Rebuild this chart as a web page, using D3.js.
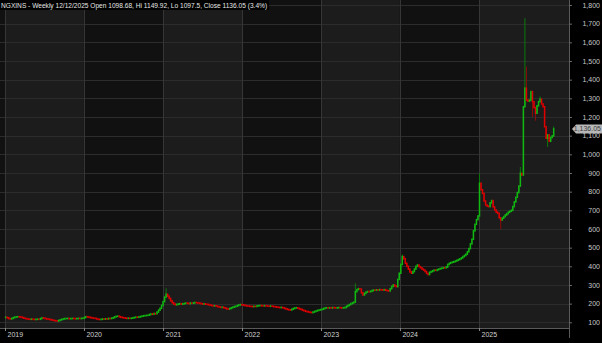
<!DOCTYPE html>
<html>
<head>
<meta charset="utf-8">
<script src="https://cdn.jsdelivr.net/npm/d3@7"></script>
<style>
    html, body { margin: 0; padding: 0; background: #000; }
    svg { display: block; font-family: "Liberation Sans", Arial, sans-serif; }
</style>
</head>
<body>
<svg id="chart" width="602" height="343"></svg>
<script>
const titleText = "NGXINS - Weekly 12/12/2025 Open 1098.68, Hi 1149.92, Lo 1097.5, Close 1136.05 (3.4%)"
const lastPriceLabel = "1,136.05"

// weekly closes, one array per year (first Friday of each year onwards)
const yearStarts = ["2019-01-04", "2020-01-03", "2021-01-01", "2022-01-07", "2023-01-06", "2024-01-05", "2025-01-03"]
const close2019 = [127, 124, 120, 118, 121, 125, 128, 129, 130, 129, 128, 125, 122, 120, 118,
    117, 116, 117, 116, 115, 116, 117, 116, 120, 124, 122, 120, 118, 117,
    115, 113, 111, 109, 108, 107, 110, 113, 116, 118, 120,
    120, 121, 119, 120, 121, 120, 119, 120, 121, 120, 121, 122]
const close2020 = [126, 130, 129, 127, 125, 123, 122, 121, 118, 116, 115,
    116, 118, 117, 119, 118, 121, 120, 122, 125, 129, 132, 133, 130, 127, 125, 124,
    122, 121, 122, 121, 122, 124, 126, 128, 127, 129, 131, 133, 135, 136, 137, 138,
    142, 145, 143, 147, 146, 155, 165, 175, 190]
const close2021 = [211, 235, 250, 240, 228, 215, 205, 198, 194, 196, 198, 200, 197, 199,
    201, 203, 202, 200, 203, 202, 204, 206, 205, 203, 202, 200, 198, 199, 197, 196,
    194, 192, 190, 188, 189, 187, 184, 182, 180, 181, 178, 175, 172, 171,
    174, 178, 181, 184, 186, 190, 193, 195, 194]
const close2022 = [192, 190, 188, 187, 186, 185, 184, 186, 185, 188, 189, 190, 189, 188, 189, 188,
    187, 186, 187, 186, 184, 183, 181, 180, 179, 180, 178, 175, 172, 169, 167, 166,
    170, 174, 177, 178, 175, 172, 169, 165, 162, 159, 157, 155, 153, 152,
    155, 158, 161, 164, 166, 168]
const close2023 = [170, 174, 177, 178, 177, 178, 177, 179, 178, 177, 178, 179, 178, 177, 178, 179,
    185, 190, 195, 200, 204, 208, 264, 275, 280, 278, 258, 246,
    255, 262, 265, 264, 266, 270, 273, 272, 274, 273, 275, 274, 273, 275,
    272, 269, 268, 280, 292, 300, 295, 291, 330, 363]
const close2024 = [410, 452, 440, 416, 400, 385, 370, 363, 372, 385, 400, 407, 398,
    392, 385, 380, 372, 362, 356, 368, 372, 376, 380, 378, 382, 385,
    388, 390, 393, 392, 396, 410, 416, 420, 422, 425, 428, 432, 436, 440, 445, 452,
    458, 465, 478, 495, 520, 545, 590, 625, 650, 670]
const close2025 = [845, 810, 791, 750, 729, 722, 720, 740, 752, 718, 702, 690, 684, 660, 648,
    658, 666, 675, 682, 690, 695, 700, 720, 745, 770, 795, 830, 898, 889,
    1255, 1354, 1291, 1285, 1290, 1336, 1282, 1250, 1220, 1260, 1282, 1295,
    1270, 1255, 1148, 1086, 1104, 1070, 1090, 1098.68, 1136.05]
const firstOpen = 126

// wicks that reach past the body: [year, week of year, value]
const wickHighs = [[2021, 2, 282], [2023, 22, 309], [2024, 1, 464], [2025, 0, 898],
    [2025, 27, 932], [2025, 30, 1729], [2025, 31, 1470], [2025, 40, 1310], [2025, 49, 1149.92]]
const wickLows = [[2025, 14, 600], [2025, 35, 1200], [2025, 37, 1180], [2025, 45, 1040], [2025, 49, 1097.5]]

const yTicks = [100, 200, 300, 400, 500, 600, 700, 800, 900, 1000, 1100, 1200, 1300, 1400, 1500, 1600, 1700, 1800]
const yearLabels = ["2019", "2020", "2021", "2022", "2023", "2024", "2025"]

const svg = d3.select("#chart")
const plotRight = 569
const plotBottom = 328

const parse = d3.timeParse("%Y-%m-%d")
const xScale = d3.scaleTime()
    .domain([new Date(2019, 0, 1), new Date(2026, 0, 1)])
    .range([5, 558])
const yScale = d3.scaleLinear()
    .domain([100, 1800])
    .range([322.3, 5])

// build candles
const yearly = [close2019, close2020, close2021, close2022, close2023, close2024, close2025]
const candles = []
let prevClose = firstOpen
yearly.forEach((closes, yi) => {
    const start = parse(yearStarts[yi])
    const year = +yearLabels[yi]
    closes.forEach((c, wi) => {
        const hiWick = wickHighs.find(w => w[0] === year && w[1] === wi)
        const loWick = wickLows.find(w => w[0] === year && w[1] === wi)
        const open = prevClose
        candles.push({
            date: d3.timeDay.offset(start, wi * 7),
            open: open,
            close: c,
            high: hiWick ? hiWick[2] : Math.max(open, c),
            low: loWick ? loWick[2] : Math.min(open, c)
        })
        prevClose = c
    })
})

svg.append("rect").attr("width", 602).attr("height", 343).attr("fill", "#000")
svg.append("rect").attr("width", plotRight).attr("height", plotBottom).attr("fill", "#111111")

// alternating year bands
yearLabels.forEach((yr, i) => {
    const x0 = xScale(new Date(+yr, 0, 1))
    const x1 = i === yearLabels.length - 1 ? plotRight : xScale(new Date(+yr + 1, 0, 1))
    svg.append("rect")
        .attr("x", x0)
        .attr("y", 0)
        .attr("width", x1 - x0)
        .attr("height", plotBottom)
        .attr("fill", i % 2 === 0 ? "#1c1c1c" : "#111111")
})

svg.append("g")
    .selectAll("line")
    .data(yTicks)
    .enter()
    .append("line")
    .attr("x1", 0)
    .attr("x2", plotRight)
    .attr("y1", d => Math.round(yScale(d)) + 0.5)
    .attr("y2", d => Math.round(yScale(d)) + 0.5)
    .attr("stroke", "#2c2c2c")

svg.append("g")
    .selectAll("line")
    .data(yearLabels)
    .enter()
    .append("line")
    .attr("x1", d => Math.round(xScale(new Date(+d, 0, 1))) + 0.5)
    .attr("x2", d => Math.round(xScale(new Date(+d, 0, 1))) + 0.5)
    .attr("y1", 0)
    .attr("y2", plotBottom)
    .attr("stroke", "#363636")

// candles
const bodyW = 1.5
const candleGroup = svg.append("g")
candleGroup.selectAll(".wick")
    .data(candles)
    .enter()
    .append("line")
    .attr("x1", d => xScale(d.date))
    .attr("x2", d => xScale(d.date))
    .attr("y1", d => yScale(d.high))
    .attr("y2", d => yScale(d.low))
    .attr("stroke", d => d.close >= d.open ? "#0b7a0b" : "#8e0b0b")
    .attr("stroke-width", 1)
candleGroup.selectAll(".body")
    .data(candles)
    .enter()
    .append("rect")
    .attr("x", d => xScale(d.date) - bodyW / 2)
    .attr("width", bodyW)
    .attr("y", d => Math.min(yScale(d.open), yScale(d.close)) - 0.8)
    .attr("height", d => Math.abs(yScale(d.open) - yScale(d.close)) + 1.6)
    .attr("fill", d => d.close >= d.open ? "#12b812" : "#e00000")

// borders
svg.append("line")
    .attr("x1", 0).attr("x2", plotRight)
    .attr("y1", plotBottom + 0.5).attr("y2", plotBottom + 0.5)
    .attr("stroke", "#5a5a5a")
svg.append("line")
    .attr("x1", plotRight + 0.5).attr("x2", plotRight + 0.5)
    .attr("y1", 0).attr("y2", 338)
    .attr("stroke", "#5a5a5a")

// right axis
const yAxis = svg.append("g")
    .attr("transform", `translate(${plotRight},0)`)
    .call(d3.axisRight(yScale).tickValues(yTicks).tickSize(3).tickFormat(d3.format(",")))
yAxis.select(".domain").remove()
yAxis.selectAll(".tick line").attr("stroke", "#6a6a6a")
yAxis.selectAll(".tick text")
    .attr("x", 31)
    .attr("text-anchor", "end")
    .attr("fill", "#c8c8c8")
    .attr("font-size", 7)
    .attr("font-family", "Liberation Sans, Arial, sans-serif")

// bottom axis
const xAxis = svg.append("g")
    .attr("transform", `translate(0,${plotBottom})`)
    .call(d3.axisBottom(xScale)
        .tickValues(yearLabels.map(d => new Date(+d, 0, 1)))
        .tickSize(3)
        .tickFormat(d3.timeFormat("%Y")))
xAxis.select(".domain").remove()
xAxis.selectAll(".tick line").attr("stroke", "#8a8a8a")
xAxis.selectAll(".tick text")
    .attr("x", 2)
    .attr("y", 4)
    .attr("text-anchor", "start")
    .attr("fill", "#d0d0d0")
    .attr("font-size", 7)
    .attr("font-family", "Liberation Sans, Arial, sans-serif")

// last price marker
const lastY = yScale(candles[candles.length - 1].close)
svg.append("path")
    .attr("d", `M572,${lastY} L576,${lastY - 4.5} L602,${lastY - 4.5} L602,${lastY + 4.5} L576,${lastY + 4.5} Z`)
    .attr("fill", "#b8b8b8")
svg.append("text")
    .attr("x", 601)
    .attr("y", lastY + 2.5)
    .attr("text-anchor", "end")
    .attr("font-size", 7)
    .attr("fill", "#3a3a3a")
    .text(lastPriceLabel)

// title
const titleG = svg.append("g")
const titleRect = titleG.append("rect").attr("x", 0).attr("y", 0).attr("height", 10).attr("fill", "#000")
const titleNode = titleG.append("text")
    .attr("x", 1)
    .attr("y", 7.5)
    .attr("font-size", 6.6)
    .attr("fill", "#e6e6e6")
    .text(titleText)
titleRect.attr("width", titleNode.node().getComputedTextLength() + 3)
</script>
</body>
</html>
